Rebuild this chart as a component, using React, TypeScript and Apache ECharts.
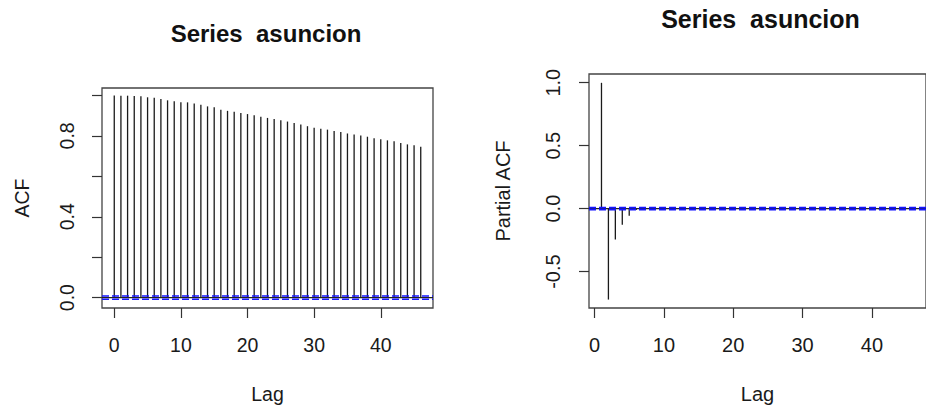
import React, { useEffect, useRef } from "react";
import * as echarts from "echarts";

const TITLE = "Series  asuncion";

const acfLags = [0, 1, 2, 3, 4, 5, 6, 7, 8, 9, 10, 11, 12, 13, 14, 15, 16, 17, 18, 19, 20, 21, 22, 23, 24, 25, 26, 27, 28, 29, 30, 31, 32, 33, 34, 35, 36, 37, 38, 39, 40, 41, 42, 43, 44, 45, 46];
const acfValues = [1.0, 0.999, 0.999, 0.997, 0.996, 0.991, 0.989, 0.983, 0.976, 0.971, 0.967, 0.966, 0.96, 0.954, 0.946, 0.942, 0.929, 0.924, 0.919, 0.913, 0.908, 0.902, 0.895, 0.889, 0.884, 0.877, 0.871, 0.864, 0.856, 0.848, 0.84, 0.835, 0.831, 0.824, 0.819, 0.812, 0.807, 0.802, 0.796, 0.788, 0.783, 0.778, 0.773, 0.765, 0.758, 0.754, 0.746];

const pacfLags = [1, 2, 3, 4, 5, 6, 7, 8, 9, 10, 11, 12, 13, 14, 15, 16, 17, 18, 19, 20, 21, 22, 23, 24, 25, 26, 27, 28, 29, 30, 31, 32, 33, 34, 35, 36, 37, 38, 39, 40, 41, 42, 43, 44, 45, 46];
const pacfValues = [0.999, -0.722, -0.246, -0.127, -0.056, -0.01, 0.006, -0.004, 0.003, -0.005, 0.004, -0.003, 0.005, -0.004, 0.003, -0.002, 0.004, -0.003, 0.002, -0.004, 0.003, -0.002, 0.004, -0.003, 0.002, 0.003, -0.004, 0.002, -0.003, 0.004, -0.002, 0.003, -0.004, 0.002, -0.003, 0.003, -0.002, 0.004, -0.003, 0.002, -0.004, 0.003, -0.002, 0.003, -0.002, 0.002];

const acfXTicks = [0, 10, 20, 30, 40];
const acfYTicks = [0, 0.2, 0.4, 0.6, 0.8, 1.0];
const acfYLabels = [0, 0.4, 0.8];
const pacfXTicks = [0, 10, 20, 30, 40];
const pacfYTicks = [-0.5, 0, 0.5, 1.0];

const acfCI = 0.008;
const pacfCI = 0.008;

const acfXRange = [-1.84, 47.84];
const acfYRange = [-0.0514, 1.037];
const pacfXRange = [-0.8, 47.8];
const pacfYRange = [-0.789, 1.069];

const FONT = "'Liberation Sans', Arial, sans-serif";

export default function App() {
  const ref = useRef<HTMLDivElement>(null);
  useEffect(() => {
    if (!ref.current) return;
    const chart = echarts.init(ref.current, undefined, { renderer: "svg" });

    const stem = (params: any, api: any) => {
      const x = api.value(0);
      const y = api.value(1);
      const p0 = api.coord([x, 0]);
      const p1 = api.coord([x, y]);
      return {
        type: "line",
        shape: { x1: p0[0], y1: p0[1], x2: p1[0], y2: p1[1] },
        style: { stroke: "#1a1a1a", lineWidth: 1.3 },
      };
    };

    const xAxisBase = (range: number[], ticks: number[], idx: number, fs: number) => ({
      type: "value",
      gridIndex: idx,
      position: "bottom",
      min: range[0],
      max: range[1],
      splitLine: { show: false },
      axisLine: { show: false, onZero: false },
      axisTick: { show: true, length: 10, customValues: ticks, lineStyle: { color: "#333", width: 1.2 } },
      axisLabel: {
        customValues: ticks,
        fontSize: fs,
        fontFamily: FONT,
        color: "#1a1a1a",
        margin: 26.5,
      },
      name: "Lag",
      nameLocation: "middle",
      nameGap: 76,
      nameTextStyle: { fontSize: fs, fontFamily: FONT, color: "#1a1a1a" },
    });

    const yAxisBase = (range: number[], ticks: number[], labels: number[], idx: number, name: string, gap: number, lm: number, fs: number) => ({
      type: "value",
      gridIndex: idx,
      position: "left",
      min: range[0],
      max: range[1],
      splitLine: { show: false },
      axisLine: { show: false, onZero: false },
      axisTick: { show: true, length: 10, customValues: ticks, lineStyle: { color: "#333", width: 1.2 } },
      axisLabel: {
        customValues: labels,
        rotate: 90,
        fontSize: fs,
        fontFamily: FONT,
        color: "#1a1a1a",
        margin: lm,
        formatter: (v: number) => v.toFixed(1),
      },
      name,
      nameLocation: "middle",
      nameRotate: 90,
      nameGap: gap,
      nameTextStyle: { fontSize: fs, fontFamily: FONT, color: "#1a1a1a" },
    });

    const hline = (range: number[], y: number, idx: number, dashed: boolean) => ({
      type: "line",
      xAxisIndex: idx,
      yAxisIndex: idx,
      data: [
        [range[0], y],
        [range[1], y],
      ],
      showSymbol: false,
      silent: true,
      lineStyle: dashed
        ? { color: "#1515ff", width: 1.6, type: [7, 3] }
        : { color: "#222", width: 1.2 },
      z: dashed ? 4 : 3,
    });

    chart.setOption({
      animation: false,
      backgroundColor: "#ffffff",
      title: [
        {
          text: TITLE,
          left: 261,
          top: 16,
          textAlign: "center",
          textStyle: { fontSize: 24, fontWeight: "bold", fontFamily: FONT, color: "#111" },
        },
        {
          text: TITLE,
          left: 755.5,
          top: 1,
          textAlign: "center",
          textStyle: { fontSize: 25, fontWeight: "bold", fontFamily: FONT, color: "#111" },
        },
      ],
      grid: [
        { left: 102, top: 88, width: 331, height: 223, show: true, borderColor: "#444", borderWidth: 1.3, backgroundColor: "transparent" },
        { left: 589, top: 74, width: 346, height: 234, show: true, borderColor: "#444", borderWidth: 1.3, backgroundColor: "transparent" },
      ],
      xAxis: [xAxisBase(acfXRange, acfXTicks, 0, 19.5), xAxisBase(pacfXRange, pacfXTicks, 1, 20)],
      yAxis: [
        yAxisBase(acfYRange, acfYTicks, acfYLabels, 0, "ACF", 70, 25, 19.5),
        yAxisBase(pacfYRange, pacfYTicks, pacfYTicks, 1, "Partial ACF", 76, 26, 20),
      ],
      series: [
        {
          type: "custom",
          xAxisIndex: 0,
          yAxisIndex: 0,
          renderItem: stem,
          encode: { x: 0, y: 1 },
          data: acfLags.map((l, i) => [l, acfValues[i]]),
          z: 2,
        },
        hline(acfXRange, 0, 0, false),
        hline(acfXRange, acfCI, 0, true),
        hline(acfXRange, -acfCI, 0, true),
        {
          type: "custom",
          xAxisIndex: 1,
          yAxisIndex: 1,
          renderItem: stem,
          encode: { x: 0, y: 1 },
          data: pacfLags.map((l, i) => [l, pacfValues[i]]),
          z: 2,
        },
        hline(pacfXRange, 0, 1, false),
        hline(pacfXRange, pacfCI, 1, true),
        hline(pacfXRange, -pacfCI, 1, true),
      ],
    });
    return () => chart.dispose();
  }, []);
  return (
    <div
      ref={ref}
      style={{ position: "fixed", left: 0, top: 0, width: 926, height: 409, background: "#fff" }}
    />
  );
}
